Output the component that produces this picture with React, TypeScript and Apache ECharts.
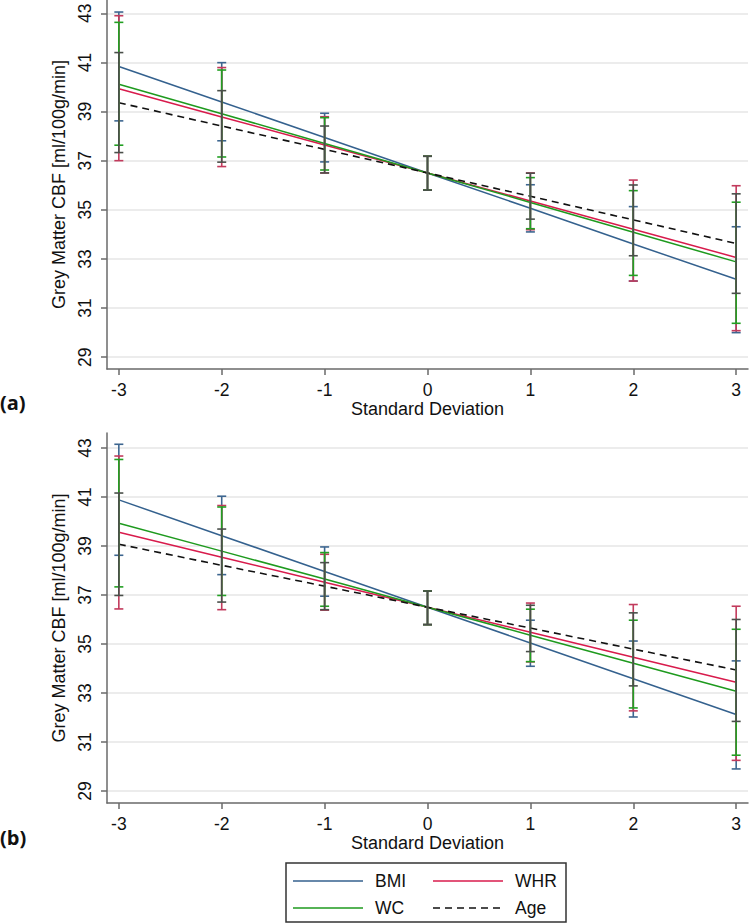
import React, { useEffect, useRef } from "react";
import * as echarts from "echarts";

const xValues = [-3, -2, -1, 0, 1, 2, 3];
const yTicks = [29, 31, 33, 35, 37, 39, 41, 43];
const seriesNames = ["BMI", "WHR", "WC", "Age"];

// Panel (a): fitted values
const aBMI = [40.83, 39.39, 37.94, 36.5, 35.06, 33.61, 32.17];
const aWHR = [39.93, 38.78, 37.64, 36.5, 35.36, 34.21, 33.06];
const aWC = [40.11, 38.91, 37.7, 36.5, 35.3, 34.09, 32.88];
const aAge = [39.36, 38.41, 37.46, 36.5, 35.55, 34.59, 33.63];
// Panel (a): confidence intervals [low, high]
const aBMIci = [[38.62, 43.05], [37.81, 40.99], [36.95, 38.93], [35.8, 37.18], [34.1, 36.02], [32.1, 35.13], [30.0, 34.31]];
const aWHRci = [[37.0, 42.9], [36.76, 40.79], [36.5, 38.79], [35.8, 37.18], [34.19, 36.5], [32.1, 36.21], [30.08, 35.98]];
const aWCci = [[37.63, 42.63], [37.15, 40.69], [36.62, 38.75], [35.8, 37.18], [34.23, 36.31], [32.33, 35.78], [30.38, 35.31]];
const aAgeci = [[37.33, 41.4], [36.94, 39.85], [36.5, 38.41], [35.8, 37.18], [34.62, 36.49], [33.13, 36.01], [31.6, 35.65]];

// Panel (b): fitted values
const bBMI = [40.88, 39.42, 37.96, 36.5, 35.04, 33.58, 32.12];
const bWHR = [39.56, 38.54, 37.52, 36.5, 35.48, 34.46, 33.44];
const bWC = [39.93, 38.79, 37.65, 36.5, 35.36, 34.21, 33.07];
const bAge = [39.07, 38.21, 37.36, 36.5, 35.65, 34.79, 33.94];
// Panel (b): confidence intervals [low, high]
const bBMIci = [[38.62, 43.15], [37.83, 41.03], [36.95, 38.96], [35.79, 37.16], [34.09, 35.97], [32.02, 35.12], [29.9, 34.31]];
const bWHRci = [[36.43, 42.67], [36.4, 40.65], [36.38, 38.66], [35.79, 37.16], [34.27, 36.67], [32.27, 36.61], [30.25, 36.54]];
const bWCci = [[37.33, 42.53], [36.98, 40.59], [36.54, 38.73], [35.79, 37.16], [34.28, 36.42], [32.39, 35.97], [30.46, 35.6]];
const bAgeci = [[36.98, 41.16], [36.71, 39.69], [36.4, 38.32], [35.79, 37.16], [34.69, 36.58], [33.29, 36.27], [31.84, 36.0]];

const COLORS: Record<string, string> = {
  BMI: "#34618e",
  WHR: "#d81b4c",
  WC: "#1e9a1e",
  Age: "#111111",
};
const CI_COLORS: Record<string, string> = {
  BMI: "#3d6690",
  WHR: "#c23a5c",
  WC: "#22a022",
  Age: "#4a4f4a",
};

const FONT = "'Liberation Sans', Arial, sans-serif";

export default function App() {
  const ref = useRef<HTMLDivElement>(null);

  useEffect(() => {
    if (!ref.current) return;
    const chart = echarts.init(ref.current, null, { renderer: "svg" });

    const panels = [
      { fits: [aBMI, aWHR, aWC, aAge], cis: [aBMIci, aWHRci, aWCci, aAgeci] },
      { fits: [bBMI, bWHR, bWC, bAge], cis: [bBMIci, bWHRci, bWCci, bAgeci] },
    ];

    const grids = [
      { left: 107, width: 641, top: 0, height: 369 },
      { left: 107, width: 641, top: 433, height: 370 },
    ];
    const yRanges = [
      [28.52, 43.54],
      [28.51, 43.61],
    ];

    const xAxes = grids.map((_, i) => ({
      type: "value",
      gridIndex: i,
      min: -3.115,
      max: 3.115,
      name: "Standard Deviation",
      nameLocation: "middle",
      nameGap: 31,
      nameTextStyle: { fontFamily: FONT, fontSize: 18, color: "#111" },
      axisLine: { show: true, onZero: false, lineStyle: { color: "#6a6a6a", width: 1.5 } },
      axisTick: { show: true, length: 6, customValues: xValues, lineStyle: { color: "#6a6a6a", width: 1.5 } },
      axisLabel: {
        customValues: xValues,
        fontFamily: FONT,
        fontSize: 17.5,
        color: "#111",
        margin: 12,
        formatter: (v: number) => String(v),
      },
      splitLine: { show: false },
    }));

    const yAxes = grids.map((_, i) => ({
      type: "value",
      gridIndex: i,
      min: yRanges[i][0],
      max: yRanges[i][1],
      name: "Grey Matter CBF [ml/100g/min]",
      nameLocation: "middle",
      nameGap: 28,
      nameRotate: 90,
      nameTextStyle: { fontFamily: FONT, fontSize: 18, color: "#111" },
      axisLine: { show: true, onZero: false, lineStyle: { color: "#6a6a6a", width: 1.5 } },
      axisTick: { show: true, length: 6, customValues: yTicks, lineStyle: { color: "#6a6a6a", width: 1.5 } },
      axisLabel: {
        customValues: yTicks,
        rotate: 90,
        fontFamily: FONT,
        fontSize: 17.5,
        color: "#111",
        margin: 13,
        formatter: (v: number) => String(v),
      },
      splitLine: { show: true, lineStyle: { color: "#e6e6e6", width: 1.5 } },
    }));

    const series: any[] = [];
    panels.forEach((p, pi) => {
      seriesNames.forEach((name, si) => {
        series.push({
          type: "line",
          name,
          xAxisIndex: pi,
          yAxisIndex: pi,
          data: xValues.map((x, k) => [x, p.fits[si][k]]),
          showSymbol: false,
          symbol: "none",
          lineStyle: {
            color: COLORS[name],
            width: name === "Age" ? 1.6 : 1.5,
            type: name === "Age" ? [7, 5] : "solid",
          },
          z: 2,
        });
      });
      seriesNames.forEach((name, si) => {
        const color = CI_COLORS[name];
        series.push({
          type: "custom",
          name: name + " CI",
          xAxisIndex: pi,
          yAxisIndex: pi,
          data: xValues.map((x, k) => [x, p.cis[si][k][0], p.cis[si][k][1]]),
          encode: { x: 0, y: [1, 2] },
          z: 3 + si,
          renderItem: (_params: any, api: any) => {
            const x = api.value(0);
            const lo = api.coord([x, api.value(1)]);
            const hi = api.coord([x, api.value(2)]);
            const hw = 4.5;
            const style = { stroke: color, lineWidth: 1.6, fill: "none" };
            return {
              type: "group",
              children: [
                { type: "line", shape: { x1: lo[0], y1: lo[1], x2: hi[0], y2: hi[1] }, style },
                { type: "line", shape: { x1: lo[0] - hw, y1: lo[1], x2: lo[0] + hw, y2: lo[1] }, style },
                { type: "line", shape: { x1: hi[0] - hw, y1: hi[1], x2: hi[0] + hw, y2: hi[1] }, style },
              ],
            };
          },
        });
      });
    });

    const legendRows = [
      [
        { name: "BMI", x: 293, y: 881 },
        { name: "WHR", x: 433, y: 881 },
      ],
      [
        { name: "WC", x: 293, y: 908 },
        { name: "Age", x: 433, y: 908 },
      ],
    ];
    const legendGraphics: any[] = [
      {
        type: "rect",
        shape: { x: 286, y: 863, width: 280, height: 59 },
        style: { fill: "#fff", stroke: "#333", lineWidth: 1.5 },
      },
    ];
    legendRows.flat().forEach((it) => {
      legendGraphics.push({
        type: "line",
        shape: { x1: it.x, y1: it.y, x2: it.x + 70, y2: it.y },
        style: {
          stroke: COLORS[it.name],
          lineWidth: 1.5,
          lineDash: it.name === "Age" ? [7, 5] : null,
        },
      });
      legendGraphics.push({
        type: "text",
        x: it.x + 82,
        y: it.y,
        style: {
          text: it.name,
          fontFamily: FONT,
          fontSize: 17.5,
          fill: "#111",
          verticalAlign: "middle",
          align: "left",
        },
      });
    });

    chart.setOption({
      animation: false,
      backgroundColor: "#fff",
      grid: grids,
      xAxis: xAxes,
      yAxis: yAxes,
      series,
      graphic: [
        {
          type: "text",
          left: 0,
          top: 392,
          style: { text: "(a)", fontFamily: "'Open Sans', sans-serif", fontWeight: "bold", fontSize: 20, fill: "#111" },
        },
        {
          type: "text",
          left: 0,
          top: 827,
          style: { text: "(b)", fontFamily: "'Open Sans', sans-serif", fontWeight: "bold", fontSize: 20, fill: "#111" },
        },
        ...legendGraphics,
      ],
    });

    return () => {
      chart.dispose();
    };
  }, []);

  return (
    <div
      ref={ref}
      style={{ position: "absolute", left: 0, top: 0, width: 750, height: 924, background: "#fff" }}
    />
  );
}
